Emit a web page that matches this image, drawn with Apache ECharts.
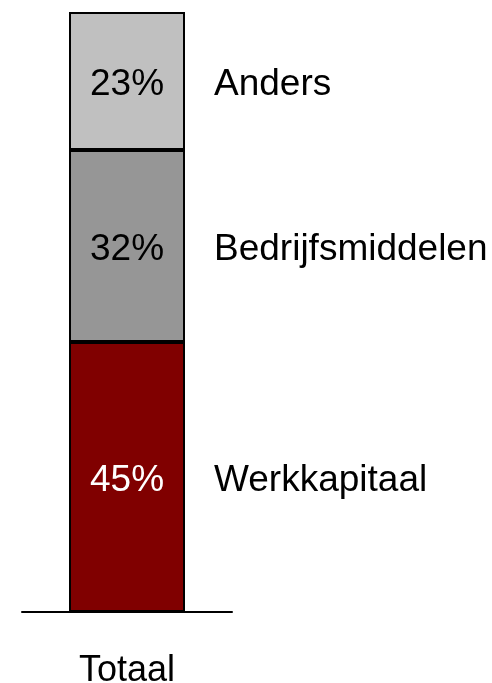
<!DOCTYPE html>
<html>
<head>
<meta charset="utf-8">
<script src="https://cdn.jsdelivr.net/npm/echarts@6/dist/echarts.min.js"></script>
<style>
  html, body { margin: 0; padding: 0; background: #fff; }
  #chart { width: 492px; height: 683px; }
</style>
</head>
<body>
<div id="chart"></div>
<script>
// data, bottom to top
var categories = ['Totaal'];
var segNames = ['Werkkapitaal', 'Bedrijfsmiddelen', 'Anders'];
var segValues = [45, 32, 23];
var segColors = ['#800000', '#969696', '#c0c0c0'];
var labelColors = ['#fff', '#000', '#000'];

var font = '"Liberation Sans", Arial, sans-serif';
var chart = echarts.init(document.getElementById('chart'));

var series = [];
segNames.forEach(function (name, i) {
    // visible segment with percent inside
    series.push({
        name: name,
        type: 'bar',
        stack: 'main',
        barWidth: 116,
        data: [segValues[i]],
        itemStyle: { color: segColors[i], borderColor: '#000', borderWidth: 2 },
        label: {
            show: true,
            position: 'inside',
            offset: [0, 4],
            formatter: '{c}%',
            color: labelColors[i],
            fontFamily: font,
            fontSize: 37
        },
        silent: true
    });
});
segNames.forEach(function (name, i) {
    // invisible copy just to carry the name label at the right
    series.push({
        name: name + '_lbl',
        type: 'bar',
        stack: 'names',
        barWidth: 116,
        barGap: '-100%',
        data: [segValues[i]],
        itemStyle: { color: 'rgba(0,0,0,0)' },
        label: {
            show: true,
            position: [145, '50%'],
            offset: [0, 4],
            align: 'left',
            verticalAlign: 'middle',
            formatter: name,
            color: '#000',
            fontFamily: font,
            fontSize: 37
        },
        silent: true
    });
});

chart.setOption({
    animation: false,
    grid: { left: 22, right: 260, top: 12, bottom: 71, outerBoundsMode: 'none', containLabel: false },
    xAxis: {
        type: 'category',
        data: categories,
        axisLine: { show: true, lineStyle: { color: '#000', width: 2 } },
        axisTick: { show: false },
        axisLabel: { color: '#000', fontFamily: font, fontSize: 36, margin: 41 }
    },
    yAxis: {
        type: 'value',
        min: 0,
        max: 100,
        show: false,
        splitLine: { show: false }
    },
    series: series
});
</script>
</body>
</html>
